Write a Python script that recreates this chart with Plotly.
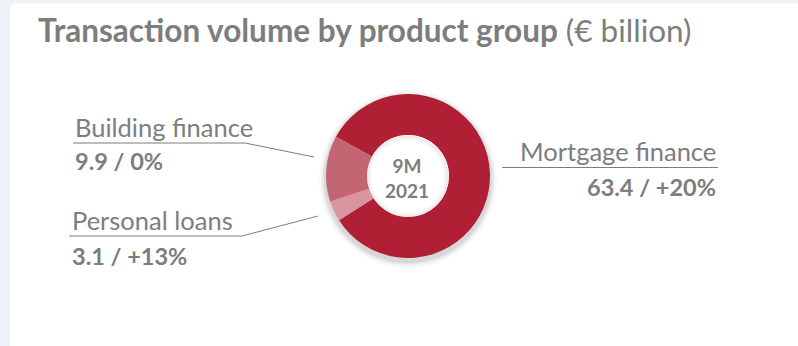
import plotly.graph_objects as go

W, H = 798, 346

# Data
products = ["Mortgage finance", "Personal loans", "Building finance"]
volumes = [63.4, 3.1, 9.9]          # € billion, 9M 2021
changes = ["+20%", "+13%", "0%"]    # change vs. prior-year period
period = ["9M", "2021"]

colors = ["#b01f33", "#d8959f", "#c46574"]
GREY = "#7d7d7d"
FONT = "Lato, 'Source Sans Pro', 'Open Sans', sans-serif"


def px(x):
    return x / W


def py(y):
    return 1 - y / H


# donut geometry (pixels)
cx, cy, r = 408, 176, 82
r_in = r * 0.5

fig = go.Figure()
fig.add_trace(go.Pie(
    labels=products,
    values=volumes,
    marker=dict(colors=colors, line=dict(width=0)),
    hole=0.5,
    sort=False,
    direction="clockwise",
    rotation=-61.5,
    textinfo="none",
    hoverinfo="label+value",
    showlegend=False,
    domain=dict(x=[px(cx - r), px(cx + r)], y=[py(cy + r), py(cy - r)]),
))


def circle(rr, dx=0, dy=0, **kw):
    return dict(type="circle", xref="paper", yref="paper",
                x0=px(cx + dx - rr), x1=px(cx + dx + rr),
                y0=py(cy + dy + rr), y1=py(cy + dy - rr), **kw)


shapes = []
# white card with rounded top-left corner
cl, ct, rad = 10, 3.5, 6
shapes.append(dict(
    type="path", xref="paper", yref="paper", layer="below",
    path=(f"M {px(cl)},{py(H + 5)} L {px(cl)},{py(ct + rad)} "
          f"Q {px(cl)},{py(ct)} {px(cl + rad)},{py(ct)} "
          f"L {px(W + 5)},{py(ct)} L {px(W + 5)},{py(H + 5)} Z"),
    fillcolor="white", line=dict(width=0),
))
# soft drop shadow behind the donut
for grow, op in [(7, 0.025), (5, 0.035), (3.5, 0.045), (2, 0.06)]:
    shapes.append(circle(r + grow, dy=3, layer="below",
                         fillcolor=f"rgba(0,0,0,{op})", line=dict(width=0)))
# clean white hole with a faint inner shadow
shapes.append(circle(r_in, layer="above", fillcolor="white", line=dict(width=0)))
for shrink, op in [(1, 0.07), (2.5, 0.04), (4, 0.02)]:
    shapes.append(circle(r_in - shrink, dx=-0.5, dy=0.5, layer="above",
                         fillcolor="rgba(0,0,0,0)",
                         line=dict(color=f"rgba(0,0,0,{op})", width=2)))

# leader lines (pixel polylines)
leaders = [
    [(502, 167.5), (718, 167.5)],                 # Mortgage finance
    [(69, 236), (242, 236), (318, 216)],          # Personal loans
    [(73, 143), (245, 143), (314, 157)],          # Building finance
]
for pts in leaders:
    path = "M " + " L ".join(f"{px(x)},{py(y)}" for x, y in pts)
    shapes.append(dict(type="path", xref="paper", yref="paper", path=path,
                       line=dict(color=GREY, width=1)))

annotations = []
# title
annotations.append(dict(
    x=px(36), y=py(51), xref="paper", yref="paper", xanchor="left", yanchor="bottom",
    text="<b>Transaction volume by product group</b> (€ billion)",
    showarrow=False, font=dict(family=FONT, size=31.5, color=GREY),
))

# label placement: (x, name y, value y, anchor)
label_pos = {
    "Mortgage finance": (718, 168, 171, "right"),
    "Personal loans": (70, 237, 240, "left"),
    "Building finance": (73, 144, 145, "left"),
}
for name, v, ch in zip(products, volumes, changes):
    x, yname, yval, anchor = label_pos[name]
    annotations.append(dict(
        x=px(x), y=py(yname), xref="paper", yref="paper", xanchor=anchor, yanchor="bottom",
        text=name, showarrow=False, font=dict(family=FONT, size=25.5, color=GREY),
    ))
    annotations.append(dict(
        x=px(x), y=py(yval), xref="paper", yref="paper", xanchor=anchor, yanchor="top",
        text=f"<b>{v:.1f} / {ch}</b>", showarrow=False,
        font=dict(family=FONT, size=23.5, color=GREY),
    ))

# centre caption
annotations.append(dict(
    x=px(cx - 1), y=py(cy + 2), xref="paper", yref="paper", xanchor="center", yanchor="middle",
    text="<b>" + "<br>".join(period) + "</b>", showarrow=False,
    font=dict(family=FONT, size=19, color=GREY),
))

fig.update_layout(
    width=W, height=H,
    margin=dict(l=0, r=0, t=0, b=0),
    paper_bgcolor="#eef1f8",
    plot_bgcolor="rgba(0,0,0,0)",
    shapes=shapes,
    annotations=annotations,
)

fig.write_html("out.html")
